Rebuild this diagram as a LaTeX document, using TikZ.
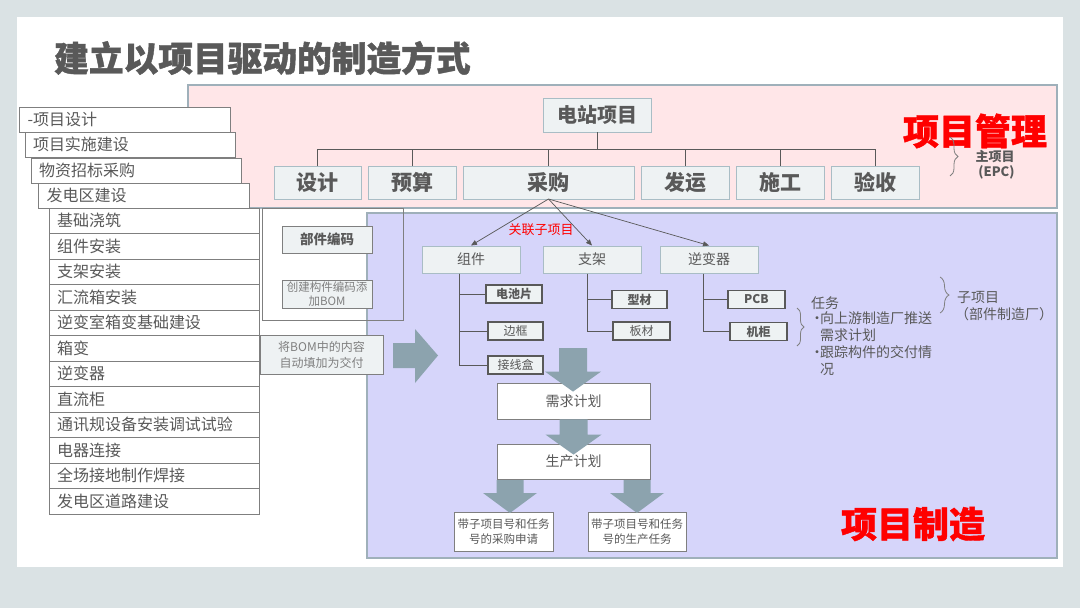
\documentclass[tikz,border=0pt]{standalone}
\usepackage{fontspec}
\setmainfont{Noto Sans CJK SC}
\newfontfamily\heavyfont{Noto Sans CJK SC}[BoldFeatures={FakeBold=1.2}]
\usepackage{xcolor}
\usepackage{tikz}
\usetikzlibrary{arrows.meta,positioning,calc,decorations.pathreplacing}
\definecolor{cpage}{HTML}{DAE2E4}
\definecolor{ctext}{HTML}{595959}
\definecolor{clight}{HTML}{7F7F7F}
\definecolor{cmgmt}{HTML}{FFE6E8}
\definecolor{cmfg}{HTML}{D6D5FA}
\definecolor{cframe}{HTML}{9FB0BA}
\definecolor{cbox}{HTML}{EEF2F3}
\definecolor{cboxborder}{HTML}{A9BDC5}
\definecolor{cblock}{HTML}{8CA3AE}
\definecolor{cred}{HTML}{FF0000}
\newcommand{\fs}[1]{\fontsize{#1}{#1}\selectfont}
\newcommand{\fsl}[2]{\fontsize{#1}{#2}\selectfont}
% fat arrow pointing down: start, tip, half width of the shaft
\newcommand{\blockdown}[3]{%
  \fill[cblock] let \p1=(#1), \p2=(#2) in
    (\x1-#3,\y1) -- (\x1+#3,\y1) -- (\x1+#3,\y2+20pt) -- (\x1+2*#3,\y2+20pt)
    -- (\x1,\y2) -- (\x1-2*#3,\y2+20pt) -- (\x1-#3,\y2+20pt) -- cycle;}

\begin{document}
\begin{tikzpicture}[x=1pt, y=-1pt,
    lst/.style={draw=clight, fill=white, line width=0.8pt, outer sep=0pt, anchor=north west,
                minimum width=210pt, minimum height=25.5pt, text width=194pt, inner xsep=8pt,
                inner ysep=2pt, align=left, text=ctext, font=\fs{16}},
    wbs/.style={draw=cboxborder, fill=cbox, line width=1pt, outer sep=0pt, minimum width=88pt,
                minimum height=33pt, text=ctext, font=\bfseries\fs{21}},
    sub/.style={draw=cboxborder, fill=cbox, line width=1pt, minimum width=98pt,
                minimum height=27pt, text=ctext, font=\fs{14}},
    part/.style={draw=ctext, fill=cbox, line width=1.2pt, minimum width=56pt,
                 minimum height=18pt, inner sep=1pt, text=ctext, font=\fs{12}},
    note/.style={draw=clight, fill=cbox, line width=0.8pt, inner sep=1pt, align=center,
                 text=clight, font=\fsl{11.5}{14}},
    flow/.style={draw=clight, fill=white, line width=0.8pt, align=center, text=ctext, font=\fs{14}},
    tree/.style={draw=ctext, line width=0.8pt},
    link/.style={-{Triangle[length=6pt,width=5pt]}, draw=ctext, line width=0.7pt},
    brc/.style={draw=clight, line width=0.8pt, decorate, decoration={brace, amplitude=#1}},
    big/.style={text=cred, font=\heavyfont\bfseries\fs{36}}
]
\useasboundingbox[fill=cpage] (0,0) rectangle (1080,608);
\fill[white] (17,17) rectangle (1063,567);
\node[anchor=west, inner sep=0pt, text=ctext, font=\heavyfont\bfseries\fs{34.7}] (title) at (54,58) {建立以项目驱动的制造方式};

% two areas
\draw[fill=cmgmt, draw=cframe, line width=1.5pt] (188,85) rectangle (1057,208);
\draw[fill=cmfg, draw=cframe, line width=1.5pt] (367,213) rectangle (1057,558);

% work breakdown list
\node[lst, minimum width=211pt] (r1) at (19,107) {-项目设计};
\node[lst] (r2) at (25,132) {项目实施建设};
\node[lst] (r3) at (31,158) {物资招标采购};
\node[lst, minimum width=211pt] (r4) at (38,183) {发电区建设};
\node[lst] (r5) at (49,208) {基础浇筑};
\node[lst, below=0pt of r5] (r6) {组件安装};
\node[lst, below=0pt of r6] (r7) {支架安装};
\node[lst, below=0pt of r7] (r8) {汇流箱安装};
\node[lst, below=0pt of r8] (r9) {逆变室箱变基础建设};
\node[lst, below=0pt of r9] (r10) {箱变};
\node[lst, below=0pt of r10] (r11) {逆变器};
\node[lst, below=0pt of r11] (r12) {直流柜};
\node[lst, below=0pt of r12] (r13) {通讯规设备安装调试试验};
\node[lst, below=0pt of r13] (r14) {电器连接};
\node[lst, below=0pt of r14] (r15) {全场接地制作焊接};
\node[lst, below=0pt of r15] (r16) {发电区道路建设};

% project management
\node[wbs, minimum width=108pt, minimum height=34pt, font=\bfseries\fs{20}] (plant) at (597,115) {电站项目};
\node[wbs, minimum width=87pt, anchor=west] (design) at (274,182.5) {设计};
\node[wbs, right=7pt of design] (budget) {预算};
\node[wbs, minimum width=171pt, right=7pt of budget] (purch) {采购};
\node[wbs, right=7pt of purch] (ship) {发运};
\node[wbs, right=7pt of ship] (build) {施工};
\node[wbs, right=7pt of build] (accept) {验收};
\coordinate (bus) at (0,149);
\draw[tree] (plant.south) -- (plant.south |- bus);
\draw[tree] (design.north |- bus) -- (accept.north |- bus);
\draw[tree] (design.north) -- (design.north |- bus);
\draw[tree] (budget.north) -- (budget.north |- bus);
\draw[tree] (purch.north) -- (purch.north |- bus);
\draw[tree] (ship.north) -- (ship.north |- bus);
\draw[tree] (build.north) -- (build.north |- bus);
\draw[tree] (accept.north) -- (accept.north |- bus);
\node[big] (pm) at (975,131) {项目管理};
\draw[brc=8pt] (950,137) -- (950,176);
\node[align=center, text=ctext, font=\bfseries\fs{13}, inner sep=0pt] (epc) at (995,165) {主项目\\[2pt]\ (EPC)};

% part coding
\draw[draw=clight, line width=0.8pt] (262,208) rectangle (403,320);
\node[note, minimum width=90pt, minimum height=27pt, text=ctext, font=\bfseries\fs{13.5}] (code) at (327,239.5) {部件编码};
\node[note, minimum width=90pt, minimum height=28pt] (bom) at (327,294) {创建构件编码添\\加BOM};
\node[note, minimum width=123pt, minimum height=39pt, font=\fsl{12}{16}] (fill) at (321.5,354.5) {将BOM中的内容\\自动填加为交付};
\fill[cblock] (393,343) -- (415,343) -- (415,329) -- (438,355.5) -- (415,383) -- (415,368) -- (393,368) -- cycle;

% sub projects
\node[text=cred, font=\fs{13}, inner sep=0pt] (rel) at (541,230) {关联子项目};
\node[sub] (module) at (471,259.5) {组件};
\node[sub, right=22pt of module] (rack) {支架};
\node[sub, right=18pt of rack] (inv) {逆变器};
\draw[link] (purch.south) -- (module.north);
\draw[link] (purch.south) -- (rack.north);
\draw[link] (purch.south) -- (inv.north);

\node[part, font=\bfseries\fs{12}] (cell) at (514,294) {电池片};
\node[part, minimum width=55pt] (frame) at (515.5,331) {边框};
\node[part, minimum width=55pt] (jbox) at (515.5,365) {接线盒};
\node[part, minimum width=55pt, font=\bfseries\fs{12}] (prof) at (639.5,299.5) {型材};
\node[part, minimum width=57pt] (plate) at (641.5,331) {板材};
\node[part, minimum width=57pt, font=\bfseries\fs{12}] (pcb) at (756.5,299.5) {PCB};
\node[part, minimum width=57pt, font=\bfseries\fs{12}] (cab) at (758.5,331.5) {机柜};
\coordinate (mt) at ($(module.south west)+(38,0)$);
\coordinate (rt) at ($(rack.south west)+(45,0)$);
\coordinate (it) at ($(inv.south west)+(44,0)$);
\draw[tree] (mt) |- (cell.west);
\draw[tree] (mt) |- (frame.west);
\draw[tree] (mt) |- (jbox.west);
\draw[tree] (rt) |- (prof.west);
\draw[tree] (rt) |- (plate.west);
\draw[tree] (it) |- (pcb.west);
\draw[tree] (it) |- (cab.west);

% tasks
\draw[brc=7pt] (797,308) -- (797,346);
\node[anchor=west, inner sep=0pt, text=ctext, font=\fs{14}] (task) at (811,303) {任务};
\node[anchor=north west, inner sep=0pt, align=left, text=ctext, font=\fsl{14}{16.7}] (tasks) at (810,312)
  {\makebox[10pt][l]{\textbullet}向上游制造厂推送\\\hspace*{10pt}需求计划\\\makebox[10pt][l]{\textbullet}跟踪构件的交付情\\\hspace*{10pt}况};
\draw[brc=9pt] (940,277) -- (940,313);
\node[anchor=west, inner sep=0pt, text=ctext, font=\fs{14}] (subp) at (957,297) {子项目};
\node[inner sep=0pt, text=ctext, font=\fs{14}] (maker) at (1004,314) {（部件制造厂）};

% planning flow
\node[flow, minimum width=153pt, minimum height=36pt] (need) at (573.5,401) {需求计划};
\node[flow, minimum width=153pt, minimum height=35pt] (prod) at (573.5,461.5) {生产计划};
\node[flow, minimum width=99pt, minimum height=39pt, inner sep=1pt, font=\fsl{11.5}{15}] (po) at (503.5,531.5) {带子项目号和任务\\号的采购申请};
\node[flow, minimum width=98pt, minimum height=39pt, inner sep=1pt, font=\fsl{11.5}{15}] (wo) at (637,531.5) {带子项目号和任务\\号的生产任务};
\blockdown{573,348}{$(need.north)+(0,9)$}{14pt}
\blockdown{need.south}{$(prod.north)+(0,11)$}{14pt}
\blockdown{510,480}{510,513}{13.5pt}
\blockdown{637,480}{637,513}{13.5pt}
\node[big] (mfg) at (913,524) {项目制造};
\end{tikzpicture}
\end{document}
